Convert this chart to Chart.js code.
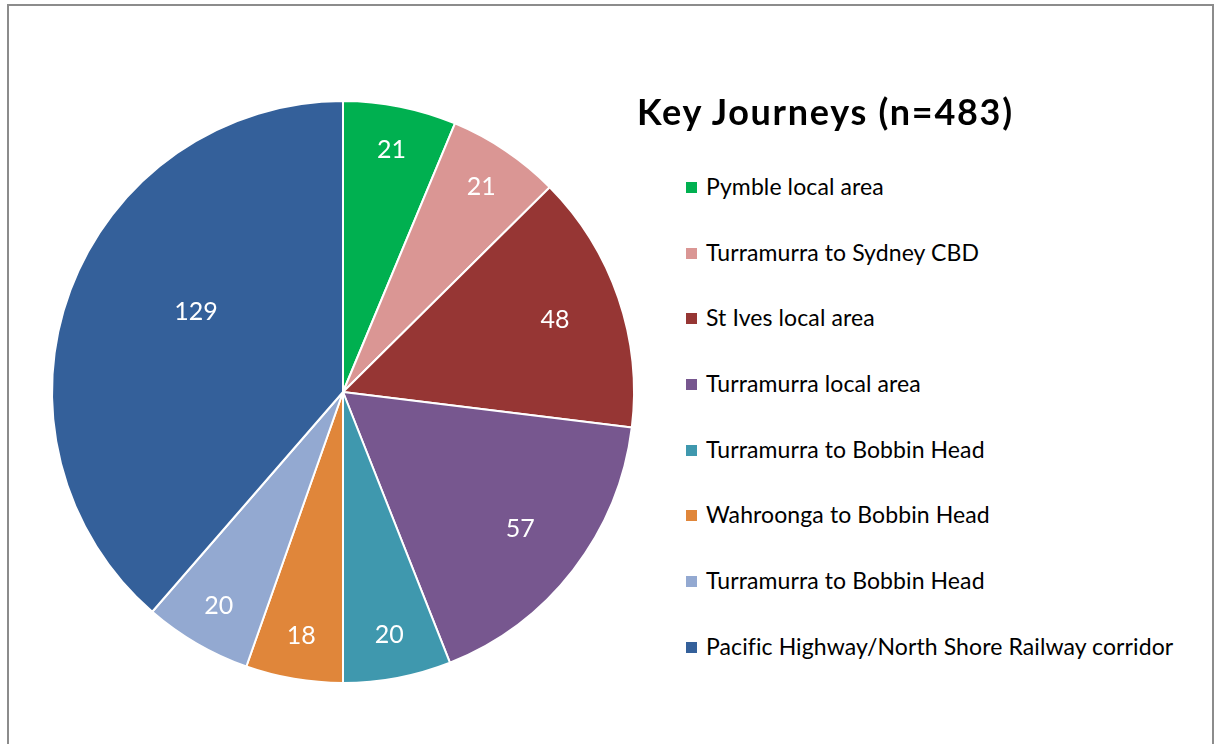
<!DOCTYPE html>
<html lang="en">
<head>
    <meta charset="UTF-8">
    <script src="https://cdn.jsdelivr.net/npm/chart.js@4.4.0/dist/chart.umd.min.js"></script>
    <style>
        body {
            margin: 0;
            background: #fff;
            font-family: Lato, "Open Sans", sans-serif;
        }

        .frame {
            position: absolute;
            left: 7px;
            top: 4px;
            width: 1203px;
            height: 800px;
            border: 2px solid #8c8c8c;
        }

        .pie-box {
            position: absolute;
            left: 43px;
            top: 92px;
            width: 600px;
            height: 600px;
        }

        .title {
            position: absolute;
            left: 637px;
            top: 93px;
            font-size: 36px;
            line-height: 36px;
            letter-spacing: 1.7px;
            font-weight: bold;
            color: #000;
            white-space: nowrap;
        }

        .legend {
            position: absolute;
            left: 686px;
            top: 172px;
            margin: 0;
            padding: 0;
            list-style: none;
        }

        .legend li {
            height: 65.7px;
            font-size: 23px;
            line-height: 28px;
            letter-spacing: 0.1px;
            color: #000;
            white-space: nowrap;
        }

        .legend span {
            display: inline-block;
            width: 11px;
            height: 11px;
            margin-right: 9px;
            vertical-align: 2px;
        }
    </style>
    <title>Key Journeys</title>
</head>
<body>
    <div class="frame"></div>
    <div class="pie-box">
        <canvas id="pieCanvas" width="600" height="600"></canvas>
    </div>
    <div class="title">Key Journeys (n=483)</div>
    <ul class="legend" id="legend"></ul>

    <script>
        const journeys = [
            'Pymble local area',
            'Turramurra to Sydney CBD',
            'St Ives local area',
            'Turramurra local area',
            'Turramurra to Bobbin Head',
            'Wahroonga to Bobbin Head',
            'Turramurra to Bobbin Head',
            'Pacific Highway/North Shore Railway corridor'
        ];
        const counts = [21, 21, 48, 57, 20, 18, 20, 129];
        const sliceColors = ['#00b050', '#da9694', '#963634', '#77578f', '#3f98ae', '#e0863a', '#93a9d1', '#34609a'];

        // value labels drawn inside each slice
        const sliceLabels = {
            id: 'sliceLabels',
            afterDatasetsDraw(chart) {
                const ctx = chart.ctx;
                const meta = chart.getDatasetMeta(0);
                ctx.save();
                ctx.font = '25px Lato, "Open Sans", sans-serif';
                ctx.fillStyle = '#ffffff';
                ctx.textAlign = 'center';
                ctx.textBaseline = 'middle';
                meta.data.forEach((arc, i) => {
                    let mid = (arc.startAngle + arc.endAngle) / 2;
                    // the big slice's label sits a bit higher, like Excel's best fit
                    if (counts[i] > 100) mid += 0.14;
                    const frac = counts[i] > 100 ? 0.575 : counts[i] > 40 ? 0.77 : 0.85;
                    const r = arc.outerRadius * frac;
                    ctx.fillText(String(counts[i]), arc.x + Math.cos(mid) * r, arc.y + Math.sin(mid) * r);
                });
                ctx.restore();
            }
        };

        new Chart(document.getElementById('pieCanvas'), {
            type: 'pie',
            data: {
                labels: journeys,
                datasets: [{
                    data: counts,
                    backgroundColor: sliceColors,
                    borderColor: '#ffffff',
                    borderWidth: 2
                }]
            },
            options: {
                responsive: false,
                animation: false,
                layout: { padding: 8 },
                plugins: {
                    legend: { display: false },
                    tooltip: { enabled: false }
                }
            },
            plugins: [sliceLabels]
        });

        const legend = document.getElementById('legend');
        journeys.forEach((name, i) => {
            const li = document.createElement('li');
            const box = document.createElement('span');
            box.style.background = sliceColors[i];
            li.appendChild(box);
            li.appendChild(document.createTextNode(name));
            legend.appendChild(li);
        });
    </script>
</body>
</html>
